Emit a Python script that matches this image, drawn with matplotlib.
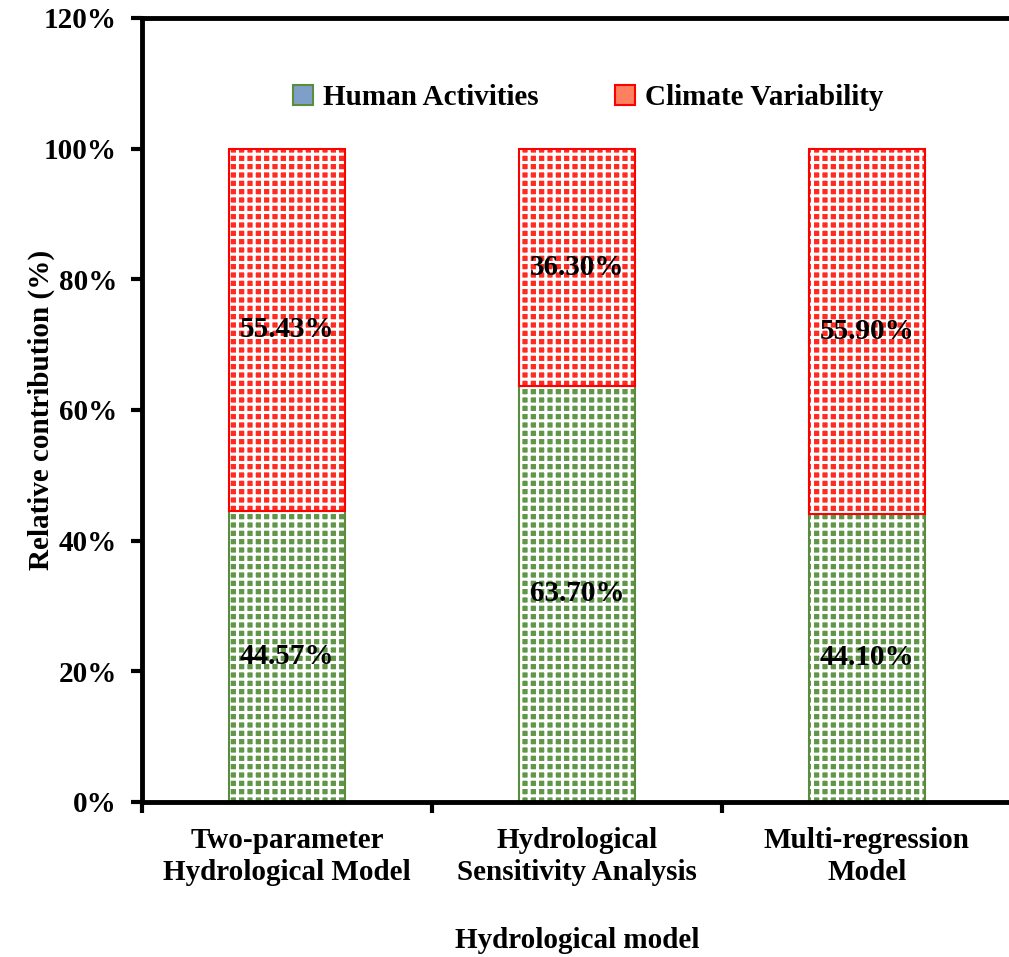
import numpy as np
import matplotlib.pyplot as plt
from matplotlib.patches import Patch

plt.rcParams['font.family'] = ['Liberation Serif', 'DejaVu Serif']
plt.rcParams['font.weight'] = 'bold'
plt.rcParams['axes.labelweight'] = 'bold'
plt.rcParams['hatch.linewidth'] = 2.2

models = ['Two-parameter\nHydrological Model',
          'Hydrological\nSensitivity Analysis',
          'Multi-regression\nModel']
human = [44.57, 63.70, 44.10]
climate = [55.43, 36.30, 55.90]

fs = 21
fig = plt.figure(figsize=(10.09, 9.57), dpi=100)
ax = fig.add_axes([0.1407, 0.162, 0.8622, 0.8192])

x = np.arange(len(models))
w = 0.40

# patterned fills: white grid hatch over coloured face, outline drawn separately
ax.bar(x, human, w, color='#5f9648', edgecolor='white', linewidth=0, hatch='++')
ax.bar(x, human, w, facecolor='none', edgecolor='#5b8c3e', linewidth=1.5)
ax.bar(x, climate, w, bottom=human, color='#ff2a20', edgecolor='white', linewidth=0, hatch='++')
ax.bar(x, climate, w, bottom=human, facecolor='none', edgecolor='#ff0000', linewidth=1.5)

for i in range(len(models)):
    ax.text(x[i], human[i] / 2, f'{human[i]:.2f}%', ha='center', va='center', fontsize=fs)
    ax.text(x[i], human[i] + climate[i] / 2, f'{climate[i]:.2f}%', ha='center', va='center', fontsize=fs)

ax.set_xlim(-0.5, 2.5)
ax.set_ylim(0, 120)
ax.set_yticks(np.arange(0, 121, 20))
ax.set_yticklabels([f'{v}%' for v in range(0, 121, 20)], fontsize=fs)
ax.set_xticks([-0.5, 0.5, 1.5, 2.5])
ax.set_xticklabels([])
ax.set_xticks(x, minor=True)
ax.set_xticklabels(models, minor=True, fontsize=fs, linespacing=1.25)
ax.tick_params(axis='x', which='minor', length=0, pad=18)
ax.tick_params(axis='x', which='major', length=8, width=3, direction='out')
ax.tick_params(axis='y', length=8, width=3, direction='out', pad=10)
for s in ax.spines.values():
    s.set_linewidth(3.5)

ax.set_ylabel('Relative contribution (%)', fontsize=fs)
ax.yaxis.set_label_coords(-0.100, 0.5)
ax.set_xlabel('Hydrological model', fontsize=fs)
ax.xaxis.set_label_coords(0.5, -0.16)

handles = [
    Patch(facecolor='#7ea0c8', edgecolor='#5b8c3e', linewidth=1.5, label='Human Activities'),
    Patch(facecolor='#ff8060', edgecolor='#ff0000', linewidth=1.5, label='Climate Variability'),
]
ax.legend(handles=handles, loc='center', bbox_to_anchor=(0.513, 0.898), ncol=2, frameon=False,
          fontsize=fs, handlelength=0.7, handleheight=0.7, handletextpad=0.35, columnspacing=2.6)

fig.savefig('out.png', dpi=100)
